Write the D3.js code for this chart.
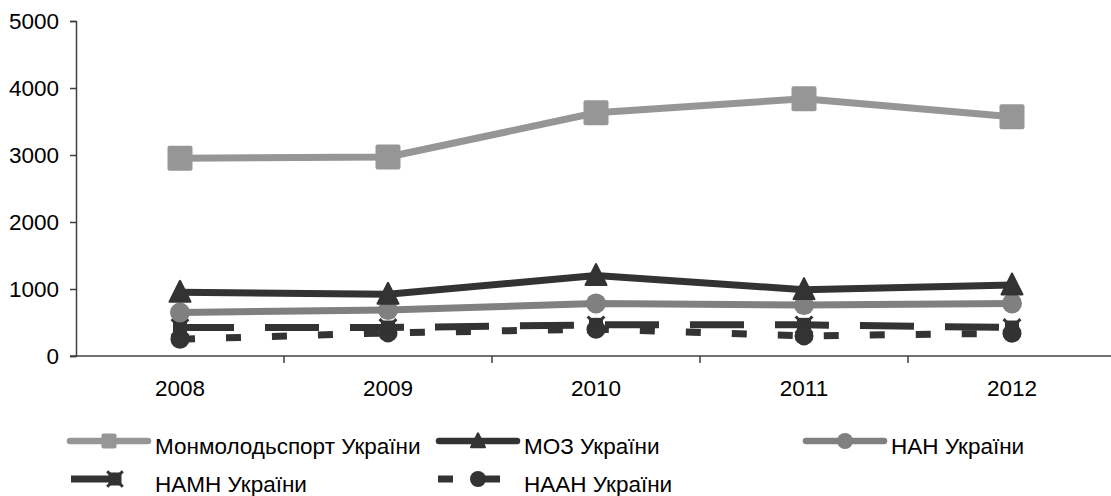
<!DOCTYPE html>
<html>
<head>
<meta charset="utf-8">
<script src="https://cdn.jsdelivr.net/npm/d3@7"></script>
<style>
  html, body { margin: 0; padding: 0; background: #fff; }
  svg { display: block; }
</style>
</head>
<body>
<div id="chart"></div>
<script>
// дані
const years = ["2008", "2009", "2010", "2011", "2012"];
const yTicks = [0, 1000, 2000, 3000, 4000, 5000];
const monmolodsport = [2950, 2970, 3630, 3840, 3570];
const moz = [950, 920, 1200, 990, 1060];
const nan = [650, 685, 785, 760, 785];
const namn = [425, 425, 465, 465, 425];
const naan = [250, 345, 400, 300, 340];

const series = [
    { name: "Монмолодьспорт України", values: monmolodsport, color: "#969696", dash: null, marker: "square" },
    { name: "МОЗ України", values: moz, color: "#333333", dash: null, marker: "triangle" },
    { name: "НАН України", values: nan, color: "#808080", dash: null, marker: "circle" },
    { name: "НАМН України", values: namn, color: "#333333", dash: "54,31", marker: "star" },
    { name: "НААН України", values: naan, color: "#333333", dash: "15,31", marker: "circle" }
];

const width = 1111, height = 496;
const font = "'Liberation Sans', Arial, sans-serif";
const fontSize = "22.5px";

const svg = d3.select("#chart").append("svg")
    .attr("width", width)
    .attr("height", height)
    .attr("viewBox", `0 0 ${width} ${height}`);

// шкали
const x = d3.scaleBand().domain(years).range([76, 1116]).padding(0);
const y = d3.scaleLinear().domain([0, 5000]).range([356, 21]);
const cx = d => x(d) + x.bandwidth() / 2;

// вісь Y
const yAxis = svg.append("g")
    .attr("transform", "translate(76,0)")
    .call(d3.axisLeft(y).tickValues(yTicks).tickSize(6).tickPadding(11).tickFormat(d3.format("d")));
yAxis.select(".domain").attr("stroke", "#404040").attr("stroke-width", 1.5);
yAxis.selectAll(".tick line").attr("stroke", "#404040").attr("stroke-width", 1.5);
yAxis.selectAll("text")
    .style("font-family", font).style("font-size", fontSize).style("fill", "#000");

// вісь X
svg.append("line")
    .attr("x1", 70).attr("x2", width)
    .attr("y1", y(0)).attr("y2", y(0))
    .attr("stroke", "#404040").attr("stroke-width", 1.5);

const xAxis = svg.append("g")
    .attr("transform", `translate(0,${y(0)})`)
    .call(d3.axisBottom(x).tickSize(0).tickPadding(24));
xAxis.select(".domain").remove();
xAxis.selectAll("text")
    .style("font-family", font).style("font-size", fontSize).style("fill", "#000");

// поділки на межах категорій
svg.selectAll(".xtick")
    .data(years.slice(1))
    .enter().append("line")
    .attr("class", "xtick")
    .attr("x1", d => x(d)).attr("x2", d => x(d))
    .attr("y1", y(0)).attr("y2", y(0) + 7)
    .attr("stroke", "#404040").attr("stroke-width", 1.5);

// маркери
function drawMarker(g, type, px, py, color, s) {
    if (type === "square") {
        g.append("rect")
            .attr("x", px - s / 2).attr("y", py - s / 2)
            .attr("width", s).attr("height", s)
            .attr("rx", 2)
            .attr("fill", color);
    } else if (type === "triangle") {
        g.append("path")
            .attr("d", `M${px},${py - s * 0.55} L${px + s / 2},${py + s * 0.45} L${px - s / 2},${py + s * 0.45} Z`)
            .attr("fill", color)
            .attr("stroke", color)
            .attr("stroke-linejoin", "round")
            .attr("stroke-width", 2);
    } else if (type === "circle") {
        g.append("circle")
            .attr("cx", px).attr("cy", py).attr("r", s / 2)
            .attr("fill", color);
    } else if (type === "star") {
        g.append("rect")
            .attr("x", px - s / 2).attr("y", py - s / 2)
            .attr("width", s).attr("height", s)
            .attr("fill", color);
        g.append("path")
            .attr("d", `M${px - s * 0.6},${py - s * 0.6} L${px + s * 0.6},${py + s * 0.6} M${px + s * 0.6},${py - s * 0.6} L${px - s * 0.6},${py + s * 0.6}`)
            .attr("stroke", color).attr("stroke-width", 3);
    }
}

const markerSize = { square: 25, triangle: 21, circle: 20, star: 14 };

const line = d3.line()
    .x((d, i) => cx(years[i]))
    .y(d => y(d));

// лінії
const plot = svg.append("g");
series.slice().reverse().forEach(s => {
    plot.append("path")
        .datum(s.values)
        .attr("fill", "none")
        .attr("stroke", s.color)
        .attr("stroke-width", 7)
        .attr("stroke-linejoin", "round")
        .attr("stroke-dasharray", s.dash)
        .attr("d", line);
});
series.slice().reverse().forEach(s => {
    const sz = s.name === "НААН України" ? 19 : markerSize[s.marker];
    s.values.forEach((v, i) => drawMarker(plot, s.marker, cx(years[i]), y(v), s.color, sz));
});

// легенда
const legendPos = [
    { x: 67, y: 441 }, { x: 436, y: 441 }, { x: 803, y: 441 },
    { x: 67, y: 479 }, { x: 436, y: 479 }
];
const legendMarker = { square: 15, triangle: 14, circle: 16, star: 13 };
const legend = svg.append("g");
series.forEach((s, i) => {
    const p = legendPos[i];
    const g = legend.append("g");
    if (s.dash === null) {
        g.append("line")
            .attr("x1", p.x + 3).attr("x2", p.x + 81).attr("y1", p.y).attr("y2", p.y)
            .attr("stroke", s.color).attr("stroke-width", 6.5).attr("stroke-linecap", "round");
        drawMarker(g, s.marker, p.x + 42, p.y, s.color, legendMarker[s.marker]);
    } else if (s.marker === "star") {
        g.append("line")
            .attr("x1", p.x + 4).attr("x2", p.x + 54).attr("y1", p.y).attr("y2", p.y)
            .attr("stroke", s.color).attr("stroke-width", 7);
        drawMarker(g, s.marker, p.x + 48, p.y, s.color, legendMarker[s.marker]);
    } else {
        g.append("line")
            .attr("x1", p.x + 2).attr("x2", p.x + 17).attr("y1", p.y).attr("y2", p.y)
            .attr("stroke", s.color).attr("stroke-width", 7);
        g.append("line")
            .attr("x1", p.x + 48).attr("x2", p.x + 64).attr("y1", p.y).attr("y2", p.y)
            .attr("stroke", s.color).attr("stroke-width", 7);
        drawMarker(g, s.marker, p.x + 42, p.y, s.color, legendMarker[s.marker]);
    }
    g.append("text")
        .attr("x", p.x + 88)
        .attr("y", p.y + 5)
        .attr("dy", "0.36em")
        .style("font-family", font)
        .style("font-size", fontSize)
        .style("fill", "#000")
        .text(s.name);
});
</script>
</body>
</html>
